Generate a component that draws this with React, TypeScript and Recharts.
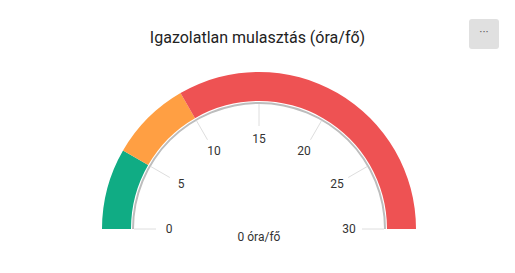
import { PieChart, Pie, Cell, RadialBarChart, RadialBar, PolarAngleAxis, PolarRadiusAxis } from "recharts";

// gauge data
const title = "Igazolatlan mulasztás (óra/fő)";
const unit = "óra/fő";
const currentValue = 0;
const bandNames = ["jó", "közepes", "rossz"];
const bandValues = [5, 5, 20];
const bandColors = ["#10ac84", "#ff9f43", "#ee5253"];
const axisTicks = [0, 5, 10, 15, 20, 25, 30];

const W = 515;
const H = 273;
const CX = 259;
const CY = 229;
const noMargin = { top: 0, right: 0, bottom: 0, left: 0 };
const fontFamily = "Roboto, 'Noto Sans', sans-serif";

const bands = bandNames.map((name, i) => ({ name, value: bandValues[i] }));
const axisArc = [{ name: "tengely", value: axisTicks[axisTicks.length - 1] }];
const gaugeData = [{ name: "érték", value: currentValue }];

function GaugeTick(props: any) {
  const { x, y, payload } = props;
  const dx = x - CX;
  const dy = y - CY;
  const len = Math.hypot(dx, dy) || 1;
  const tx = x - (dx / len) * 13;
  const ty = y - (dy / len) * 13;
  return (
    <text
      x={tx}
      y={ty}
      textAnchor="middle"
      dominantBaseline="central"
      fontSize={12}
      fill="#333"
      fontFamily={fontFamily}
    >
      {payload.value}
    </text>
  );
}

export default function App() {
  return (
    <div style={{ position: "relative", width: W, height: H, margin: -8, background: "#fff", fontFamily }}>
      <div
        style={{
          position: "absolute",
          left: 0,
          width: W,
          top: 28,
          textAlign: "center",
          fontSize: 16,
          lineHeight: "20px",
          color: "#222",
        }}
      >
        {title}
      </div>
      <div
        style={{
          position: "absolute",
          left: 469,
          top: 19,
          width: 30,
          height: 30,
          background: "#e0e0e0",
          borderRadius: 3,
          color: "#666",
          fontSize: 12,
          lineHeight: "27px",
          textAlign: "center",
        }}
      >
        ···
      </div>
      <div style={{ position: "absolute", left: 0, top: 0 }}>
        <PieChart width={W} height={H} margin={noMargin}>
          <Pie
            data={bands}
            dataKey="value"
            cx={CX}
            cy={CY}
            startAngle={180}
            endAngle={0}
            innerRadius={128}
            outerRadius={157}
            stroke="none"
            isAnimationActive={false}
          >
            {bands.map((b, i) => (
              <Cell key={b.name} fill={bandColors[i]} />
            ))}
          </Pie>
          <Pie
            data={axisArc}
            dataKey="value"
            cx={CX}
            cy={CY}
            startAngle={180}
            endAngle={0}
            innerRadius={125}
            outerRadius={127}
            fill="#bdbdbd"
            stroke="none"
            isAnimationActive={false}
          />
        </PieChart>
      </div>
      <div style={{ position: "absolute", left: 0, top: 0 }}>
        <RadialBarChart
          width={W}
          height={H}
          margin={noMargin}
          cx={CX}
          cy={CY}
          innerRadius={0}
          outerRadius={125}
          startAngle={180}
          endAngle={0}
          data={gaugeData}
        >
          <PolarAngleAxis
            type="number"
            domain={[axisTicks[0], axisTicks[axisTicks.length - 1]]}
            ticks={axisTicks}
            orientation="inner"
            tickSize={22}
            axisLine={false}
            tickLine={{ stroke: "#dedede" }}
            tick={<GaugeTick />}
          />
          <PolarRadiusAxis type="category" dataKey="name" tick={false} axisLine={false} />
          <RadialBar dataKey="value" fill="#333" isAnimationActive={false} />
        </RadialBarChart>
      </div>
      <div
        style={{
          position: "absolute",
          left: CX - 60,
          width: 120,
          top: 230,
          textAlign: "center",
          fontSize: 12,
          color: "#333",
        }}
      >
        {`${currentValue} ${unit}`}
      </div>
    </div>
  );
}
